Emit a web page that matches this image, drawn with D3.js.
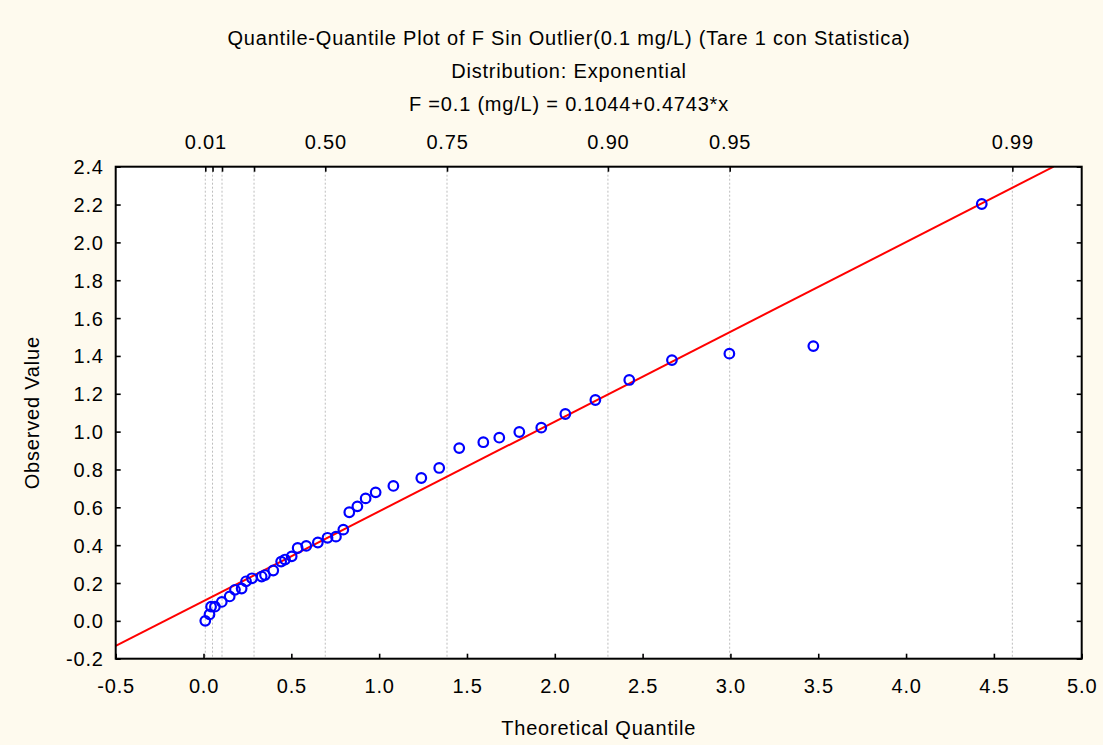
<!DOCTYPE html>
<html>
<head>
<meta charset="utf-8">
<script src="https://cdn.jsdelivr.net/npm/d3@7"></script>
<style>
  html, body { margin: 0; padding: 0; background: #fefaee; }
  svg text { font-family: "Liberation Sans", Arial, sans-serif; fill: #000; letter-spacing: 0.8px; }
</style>
</head>
<body>
<div id="chart"></div>
<script>
// --- data ---
const titleLines = [
  'Quantile-Quantile Plot of F Sin Outlier(0.1 mg/L) (Tare 1 con Statistica)',
  'Distribution: Exponential',
  'F =0.1 (mg/L) = 0.1044+0.4743*x'
];
const theoQuantile = [0.010, 0.034, 0.043, 0.065, 0.104, 0.149, 0.179, 0.217, 0.242, 0.276,
  0.331, 0.350, 0.397, 0.442, 0.464, 0.502, 0.536, 0.585, 0.651, 0.706,
  0.754, 0.796, 0.830, 0.876, 0.923, 0.980, 1.081, 1.240, 1.342, 1.456,
  1.593, 1.684, 1.798, 1.923, 2.060, 2.231, 2.424, 2.667, 2.994, 3.472, 4.431];
const observed = [0.000, 0.034, 0.075, 0.075, 0.100, 0.129, 0.164, 0.171, 0.209, 0.225,
  0.234, 0.242, 0.266, 0.313, 0.324, 0.341, 0.385, 0.396, 0.414, 0.439,
  0.445, 0.482, 0.574, 0.605, 0.647, 0.679, 0.713, 0.755, 0.808, 0.913,
  0.944, 0.968, 0.998, 1.021, 1.093, 1.167, 1.273, 1.378, 1.412, 1.452, 2.203];
const fitIntercept = 0.1044;
const fitSlope = 0.4743;
const probTicks = [0.01, 0.05, 0.10, 0.25, 0.50, 0.75, 0.90, 0.95, 0.99];
const probLabels = [0.01, 0.50, 0.75, 0.90, 0.95, 0.99];
const xTicks = [-0.5, 0.0, 0.5, 1.0, 1.5, 2.0, 2.5, 3.0, 3.5, 4.0, 4.5, 5.0];
const yTicks = [-0.2, 0.0, 0.2, 0.4, 0.6, 0.8, 1.0, 1.2, 1.4, 1.6, 1.8, 2.0, 2.2, 2.4];

const width = 1103, height = 745;
const plot = { left: 115.7, right: 1081.7, top: 166.7, bottom: 658.7 };
const fontSize = 20;

const svg = d3.select('#chart').append('svg')
  .attr('width', width)
  .attr('height', height)
  .style('display', 'block')
  .style('background', '#fefaee');

const x = d3.scaleLinear().domain([-0.5, 5.0]).range([plot.left, plot.right]);
const y = d3.scaleLinear().domain([-0.2, 2.4]).range([plot.bottom, plot.top]);
// exponential quantile for the probability axis on top
const expQ = p => -Math.log(1 - p);
const fmt1 = d => d3.format('.1f')(d).replace('\u2212', '-');

svg.append('rect')
  .attr('x', plot.left).attr('y', plot.top)
  .attr('width', plot.right - plot.left)
  .attr('height', plot.bottom - plot.top)
  .attr('fill', '#fff');

svg.append('defs').append('clipPath').attr('id', 'clip')
  .append('rect')
  .attr('x', plot.left).attr('y', plot.top)
  .attr('width', plot.right - plot.left)
  .attr('height', plot.bottom - plot.top);

// dotted probability grid
svg.append('g').selectAll('line')
  .data(probTicks)
  .join('line')
  .attr('x1', d => x(expQ(d))).attr('x2', d => x(expQ(d)))
  .attr('y1', plot.top).attr('y2', plot.bottom)
  .attr('stroke', '#bdbdbd')
  .attr('stroke-width', 1)
  .attr('stroke-dasharray', '2,2');

// axes (ticks pointing inwards)
const tickLen = 5;
const axisBottom = svg.append('g')
  .attr('transform', `translate(0,${plot.bottom})`)
  .call(d3.axisBottom(x).tickValues(xTicks).tickSize(-tickLen).tickPadding(20)
    .tickFormat(fmt1));
const axisLeft = svg.append('g')
  .attr('transform', `translate(${plot.left},0)`)
  .call(d3.axisLeft(y).tickValues(yTicks).tickSize(-tickLen).tickPadding(12)
    .tickFormat(fmt1));
const axisRight = svg.append('g')
  .attr('transform', `translate(${plot.right},0)`)
  .call(d3.axisRight(y).tickValues(yTicks).tickSize(-tickLen).tickFormat(''));
const axisTop = svg.append('g')
  .attr('transform', `translate(0,${plot.top})`)
  .call(d3.axisTop(x).tickValues(probTicks.map(expQ)).tickSize(-tickLen).tickPadding(18)
    .tickFormat((d, i) => probLabels.includes(probTicks[i]) ? d3.format('.2f')(probTicks[i]) : ''));

[axisBottom, axisLeft, axisRight, axisTop].forEach(a => {
  a.select('.domain').remove();
  a.selectAll('.tick line').attr('stroke', '#000').attr('stroke-width', 1.6);
  a.selectAll('.tick text')
    .style('font-size', fontSize + 'px')
    .style('font-family', '"Liberation Sans", Arial, sans-serif')
    .attr('fill', '#000');
});
axisLeft.selectAll('.tick text').attr('dy', '0.35em');

// fitted line
const g = svg.append('g').attr('clip-path', 'url(#clip)');
const xEnd = (2.4 - fitIntercept) / fitSlope;
g.append('path')
  .datum([-0.5, xEnd])
  .attr('d', d3.line().x(d => x(d)).y(d => y(fitIntercept + fitSlope * d)))
  .attr('fill', 'none')
  .attr('stroke', '#ff0000')
  .attr('stroke-width', 2);

// points
g.append('g').selectAll('circle')
  .data(theoQuantile.map((q, i) => ({ q, v: observed[i] })))
  .join('circle')
  .attr('cx', d => x(d.q))
  .attr('cy', d => y(d.v))
  .attr('r', 4.8)
  .attr('fill', 'none')
  .attr('stroke', '#0000ff')
  .attr('stroke-width', 2.2);

// frame
svg.append('rect')
  .attr('x', plot.left).attr('y', plot.top)
  .attr('width', plot.right - plot.left)
  .attr('height', plot.bottom - plot.top)
  .attr('fill', 'none')
  .attr('stroke', '#000')
  .attr('stroke-width', 2);

// titles
svg.append('g').selectAll('text')
  .data(titleLines)
  .join('text')
  .attr('x', 569)
  .attr('y', (d, i) => 44.5 + i * 33)
  .attr('text-anchor', 'middle')
  .style('font-size', fontSize + 'px')
  .text(d => d);

svg.append('text')
  .attr('x', (plot.left + plot.right) / 2)
  .attr('y', 735)
  .attr('text-anchor', 'middle')
  .style('font-size', fontSize + 'px')
  .text('Theoretical Quantile');

svg.append('text')
  .attr('transform', `translate(39,${(plot.top + plot.bottom) / 2}) rotate(-90)`)
  .attr('text-anchor', 'middle')
  .style('font-size', fontSize + 'px')
  .text('Observed Value');
</script>
</body>
</html>
